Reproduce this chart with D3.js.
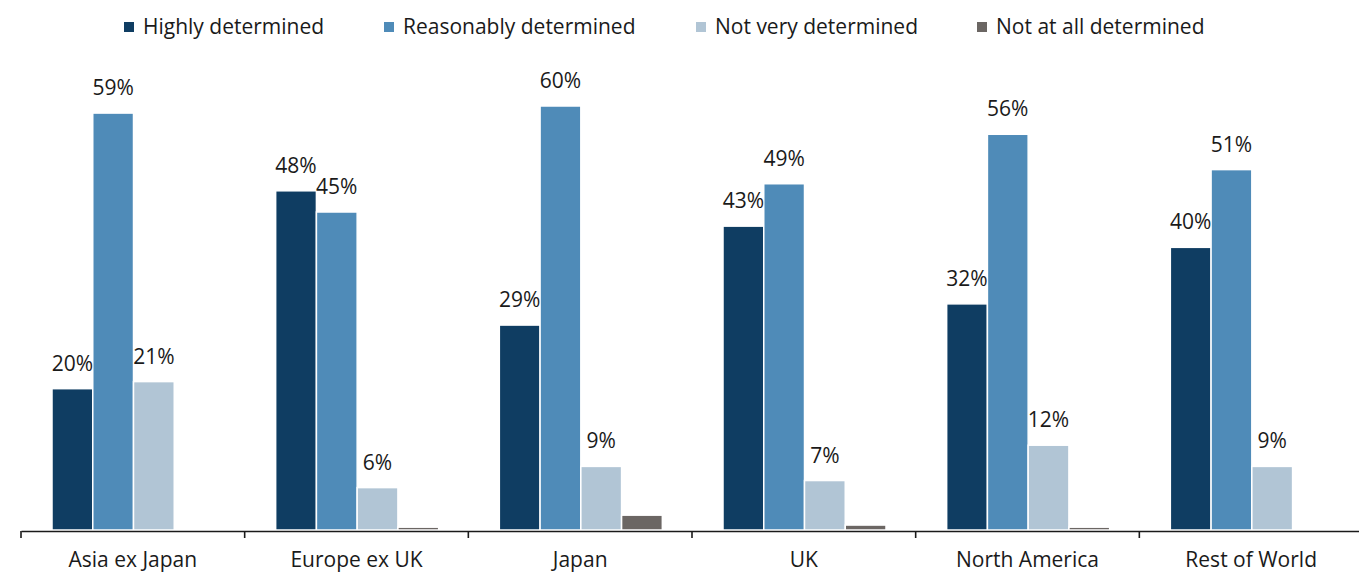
<!DOCTYPE html>
<html>
<head>
<meta charset="utf-8">
<script src="https://cdn.jsdelivr.net/npm/d3@7"></script>
<style>
  html, body { margin: 0; padding: 0; background: #fff; }
  svg { display: block; font-family: "Open Sans", sans-serif; }
</style>
</head>
<body>
<svg id="chart" width="1359" height="574"></svg>
<script>
// Regions along the x axis
const regions = ["Asia ex Japan", "Europe ex UK", "Japan", "UK", "North America", "Rest of World"];

// Share of respondents (%) per level of determination
const seriesNames = ["Highly determined", "Reasonably determined", "Not very determined", "Not at all determined"];
const highly     = [20, 48, 29, 43, 32, 40];
const reasonably = [59, 45, 60, 49, 56, 51];
const notVery    = [21, 6, 9, 7, 12, 9];
const notAtAll   = [0, 0.4, 2.1, 0.7, 0.4, 0];
// Which series carry a value label above the bar
const labelled   = [true, true, true, false];

const seriesValues = [highly, reasonably, notVery, notAtAll];
const colors = ["#0f3d62", "#4f8bb8", "#b1c5d5", "#6b6663"];

const svg = d3.select("#chart");

const x0 = d3.scaleBand().domain(regions).range([21, 1363]).padding(0);
const x1 = d3.scaleBand().domain(seriesNames).range([31, 194]).padding(0);
const y = d3.scaleLinear().domain([0, 60]).range([530, 106]);

// Bars
const groups = svg.append("g").selectAll("g")
  .data(regions)
  .join("g")
  .attr("transform", d => `translate(${x0(d)},0)`);

groups.selectAll("rect")
  .data((r, i) => seriesNames.map((s, k) => ({ s, k, v: seriesValues[k][i] })))
  .join("rect")
  .filter(d => d.v > 0)
  .attr("x", d => x1(d.s))
  .attr("width", x1.bandwidth())
  .attr("y", d => y(d.v))
  .attr("height", d => y(0) - y(d.v))
  .attr("fill", d => colors[d.k])
  .attr("stroke", "#ffffff")
  .attr("stroke-width", 1.5);

// Value labels
groups.selectAll("text")
  .data((r, i) => seriesNames.map((s, k) => ({ s, k, v: seriesValues[k][i] })).filter(d => labelled[d.k]))
  .join("text")
  .attr("x", d => x1(d.s) + x1.bandwidth() / 2)
  .attr("y", d => y(d.v) - 18)
  .attr("text-anchor", "middle")
  .attr("font-size", 21)
  .attr("fill", "#1a1a1a")
  .text(d => d3.format("d")(d.v) + "%");

// Category axis
const axis = svg.append("g")
  .attr("transform", `translate(0,${y(0) + 1})`)
  .call(d3.axisBottom(x0).tickSize(0).tickPadding(21));
axis.select(".domain").attr("stroke", "#1a1a1a").attr("stroke-width", 1.6);
axis.selectAll(".tick text")
  .attr("font-size", 21)
  .attr("font-family", "Open Sans, sans-serif")
  .attr("fill", "#1a1a1a");

// Group separator ticks
const bounds = regions.map(r => x0(r)).concat([x0.range()[1]]);
axis.selectAll("line.sep")
  .data(bounds)
  .join("line")
  .attr("class", "sep")
  .attr("x1", d => d).attr("x2", d => d)
  .attr("y1", 0).attr("y2", 7)
  .attr("stroke", "#1a1a1a")
  .attr("stroke-width", 1.6);

// Legend
const legendX = [124, 384, 696, 977];
const legend = svg.append("g").selectAll("g")
  .data(seriesNames)
  .join("g")
  .attr("transform", (d, i) => `translate(${legendX[i]},27)`);
legend.append("rect")
  .attr("x", 0).attr("y", -5)
  .attr("width", 10).attr("height", 10)
  .attr("fill", (d, i) => colors[i]);
legend.append("text")
  .attr("x", 19)
  .attr("dy", "0.35em")
  .attr("font-size", 21)
  .attr("fill", "#1a1a1a")
  .text(d => d);
</script>
</body>
</html>
